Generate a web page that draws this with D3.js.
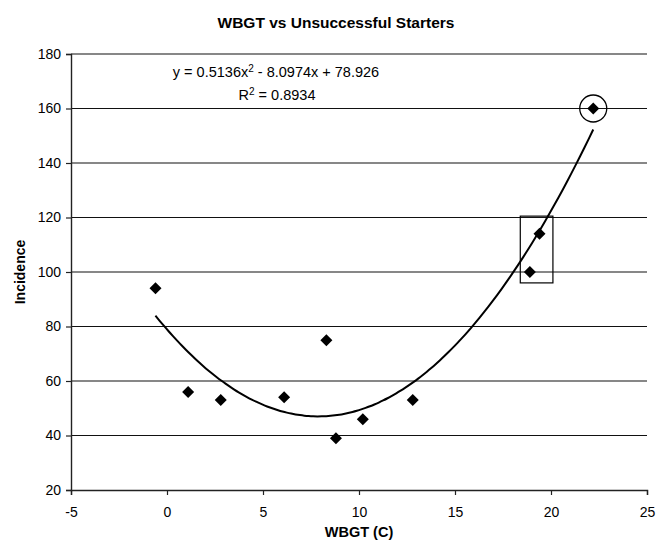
<!DOCTYPE html>
<html>
<head>
<meta charset="utf-8">
<script src="https://cdn.jsdelivr.net/npm/d3@7"></script>
<style>
  body { margin: 0; background: #fff; }
  text { font-family: "Liberation Sans", Arial, sans-serif; }
</style>
</head>
<body>
<div id="chart"></div>
<script>
// data
var wbgt      = [-0.6, 1.1, 2.8, 6.1, 8.3, 8.8, 10.2, 12.8, 18.9, 19.4, 22.2];
var incidence = [94, 56, 53, 54, 75, 39, 46, 53, 100, 114, 160];
var xTicks = [-5, 0, 5, 10, 15, 20, 25];
var yTicks = [20, 40, 60, 80, 100, 120, 140, 160, 180];
// trendline coefficients (a x^2 + b x + c) as printed on the chart
var fitCoef = [0.5136, -8.0974, 78.926];
var fitLabel = "0.8934";
// highlight annotations: box around two points, circle around the top one
var boxX = [18.4, 20.1], boxY = [96, 120.5];
var circledPoint = 10;

var W = 666, H = 544;
var margin = {top: 54, right: 19, bottom: 54, left: 71},
    width = W - margin.left - margin.right,
    height = H - margin.top - margin.bottom;

var svg = d3.select("#chart")
  .append("svg")
    .attr("width", W)
    .attr("height", H);

var g = svg.append("g")
    .attr("transform", "translate(" + margin.left + "," + margin.top + ")");

var x = d3.scaleLinear().domain([-5, 25]).range([0, width]);
var y = d3.scaleLinear().domain([20, 180]).range([height, 0]);

// horizontal gridlines
g.selectAll(".grid")
  .data(yTicks.slice(1))
  .enter().append("line")
    .attr("x1", 0).attr("x2", width)
    .attr("y1", function(d) { return y(d); })
    .attr("y2", function(d) { return y(d); })
    .attr("stroke", "#111")
    .attr("stroke-width", 1.2);

// axes
var xAxis = g.append("g")
    .attr("transform", "translate(0," + height + ")")
    .call(d3.axisBottom(x).tickValues(xTicks).tickFormat(String).tickSize(5).tickPadding(12));
var yAxis = g.append("g")
    .call(d3.axisLeft(y).tickValues(yTicks).tickFormat(String).tickSize(5).tickPadding(5));

[xAxis, yAxis].forEach(function(a) {
  a.select(".domain").attr("stroke", "#222").attr("stroke-width", 1.4);
  a.selectAll(".tick line").attr("stroke", "#222").attr("stroke-width", 1.2);
  a.selectAll(".tick text")
    .style("font-family", "'Liberation Sans', Arial, sans-serif")
    .style("font-size", "14px")
    .attr("fill", "#000");
});

// trendline, drawn over the data range
var xs = d3.extent(wbgt);
var fitPts = d3.range(0, 101).map(function(i) {
  var xv = xs[0] + (xs[1] - xs[0]) * i / 100;
  return [xv, fitCoef[0] * xv * xv + fitCoef[1] * xv + fitCoef[2]];
});
g.append("path")
  .datum(fitPts)
  .attr("d", d3.line()
    .x(function(d) { return x(d[0]); })
    .y(function(d) { return y(d[1]); })
    .curve(d3.curveMonotoneX))
  .attr("fill", "none")
  .attr("stroke", "#000")
  .attr("stroke-width", 2);

// diamonds
g.selectAll(".pt")
  .data(wbgt)
  .enter().append("path")
    .attr("transform", function(d, i) { return "translate(" + x(d) + "," + y(incidence[i]) + ")"; })
    .attr("d", "M0,-6L6,0L0,6L-6,0Z")
    .attr("fill", "#000");

// annotations
g.append("rect")
  .attr("x", x(boxX[0]))
  .attr("y", y(boxY[1]))
  .attr("width", x(boxX[1]) - x(boxX[0]))
  .attr("height", y(boxY[0]) - y(boxY[1]))
  .attr("fill", "none")
  .attr("stroke", "#000")
  .attr("stroke-width", 1.2);

g.append("circle")
  .attr("cx", x(wbgt[circledPoint]))
  .attr("cy", y(incidence[circledPoint]))
  .attr("r", 13.5)
  .attr("fill", "none")
  .attr("stroke", "#000")
  .attr("stroke-width", 1.3);

// equation
var eq = g.append("text")
  .attr("x", 205)
  .attr("y", 23)
  .attr("text-anchor", "middle")
  .style("font-size", "14.5px");
eq.append("tspan").text("y = " + fitCoef[0] + "x");
eq.append("tspan").attr("dy", -5).style("font-size", "10px").text("2");
eq.append("tspan").attr("dy", 5).text(" - " + Math.abs(fitCoef[1]) + "x + " + fitCoef[2]);

var r2 = g.append("text")
  .attr("x", 206)
  .attr("y", 46)
  .attr("text-anchor", "middle")
  .style("font-size", "14.5px");
r2.append("tspan").text("R");
r2.append("tspan").attr("dy", -5).style("font-size", "10px").text("2");
r2.append("tspan").attr("dy", 5).text(" = " + fitLabel);

// titles
svg.append("text")
  .attr("x", 336)
  .attr("y", 28)
  .attr("text-anchor", "middle")
  .style("font-size", "15.5px")
  .style("font-weight", "bold")
  .text("WBGT vs Unsuccessful Starters");

svg.append("text")
  .attr("x", margin.left + width / 2)
  .attr("y", 537)
  .attr("text-anchor", "middle")
  .style("font-size", "14.5px")
  .style("font-weight", "bold")
  .text("WBGT (C)");

svg.append("text")
  .attr("transform", "translate(25," + (margin.top + height / 2) + ") rotate(-90)")
  .attr("text-anchor", "middle")
  .style("font-size", "14px")
  .style("font-weight", "bold")
  .text("Incidence");
</script>
</body>
</html>
